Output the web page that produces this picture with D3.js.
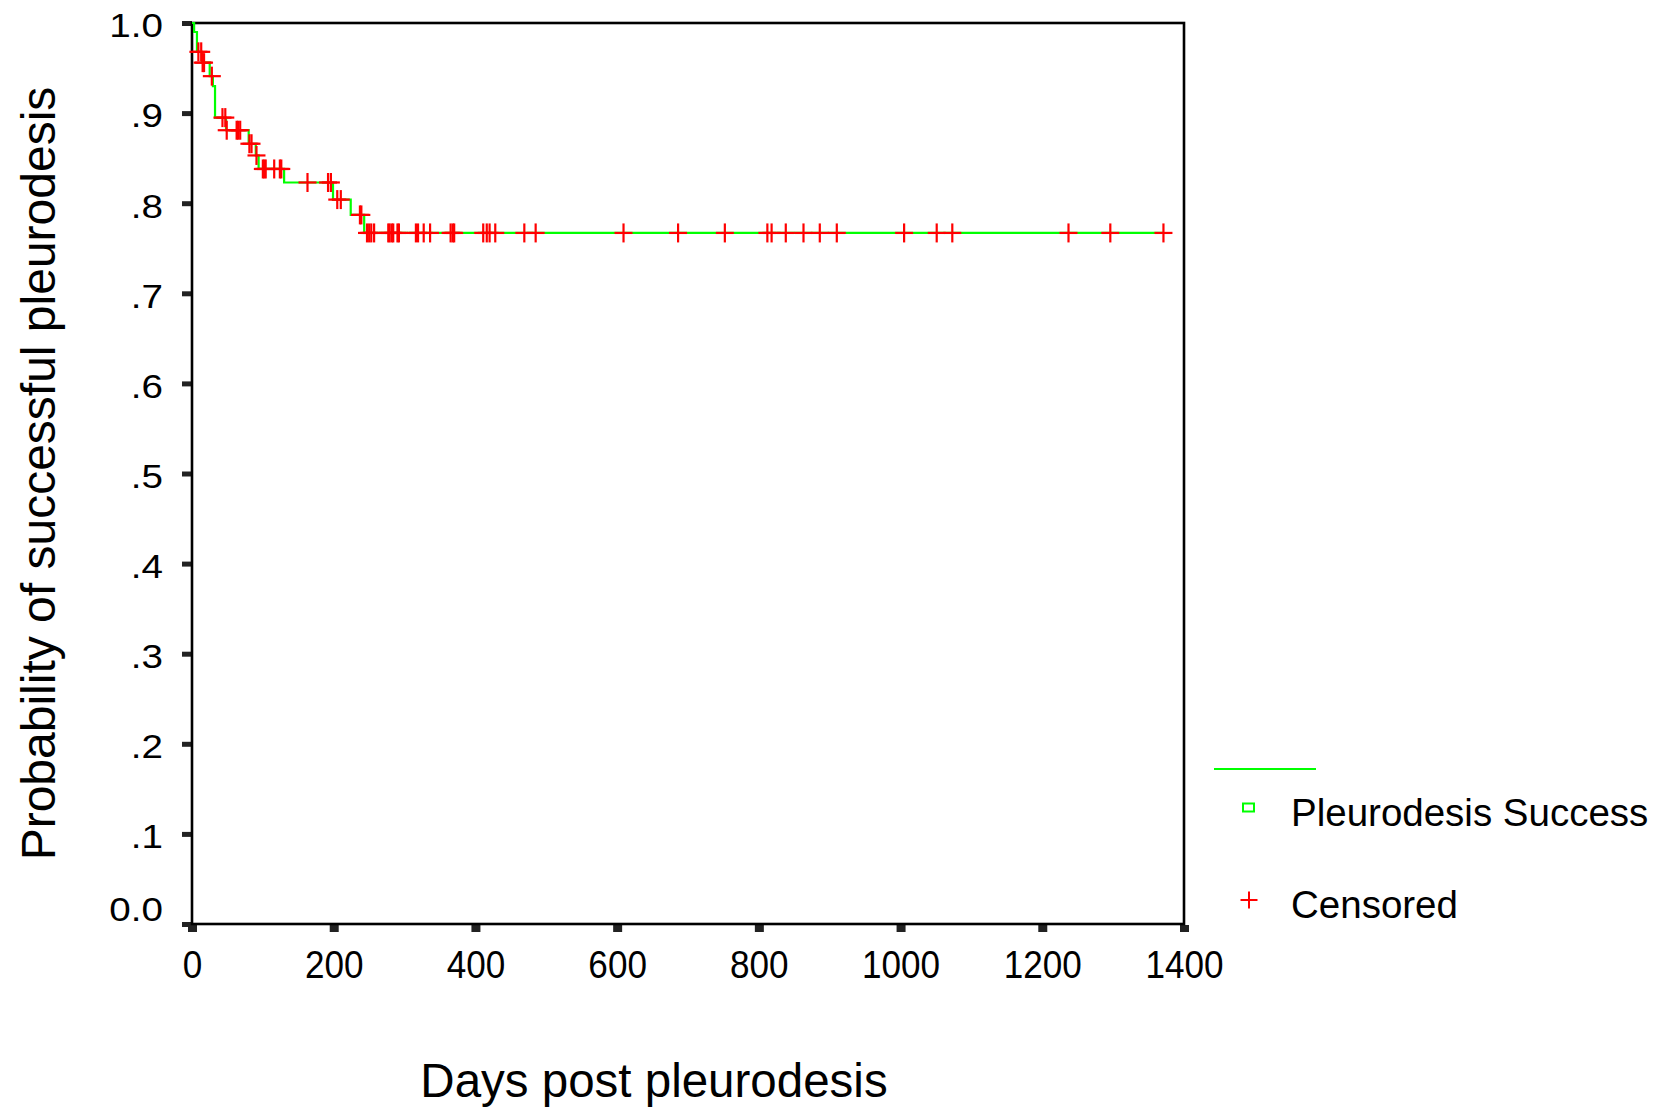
<!DOCTYPE html>
<html lang="en">
<head>
<meta charset="utf-8">
<title>Pleurodesis survival</title>
<script src="https://d3js.org/d3.v7.min.js"></script>
<style>
  body { margin: 0; background: white; }
  svg text { font-family: "Liberation Sans", Arial, sans-serif; fill: #000; }
  .ylab text { transform-box: fill-box; transform-origin: right center; transform: scaleX(1.17); }
  .xlab text { transform-box: fill-box; transform-origin: center center; transform: scaleX(0.9); }
</style>
</head>
<body>
<script>
// Kaplan-Meier steps (day of drop, survival after drop)
var stepDays = [0, 3, 7, 14, 25, 29.5, 32.5, 48, 80, 90, 94, 130, 199, 224, 243];
var stepSurv = [1.0, 0.990, 0.968, 0.956, 0.941, 0.930, 0.895, 0.881, 0.866, 0.853, 0.838, 0.823, 0.804, 0.787, 0.767];

// censored cases (day)
var censorDays = [9, 13, 15, 17, 28, 43, 47, 49, 63, 65, 68, 81, 84, 91,
  100, 102, 104, 116, 124, 126, 163, 192, 196, 205, 210, 237, 239,
  247, 250, 253, 257, 277, 279, 282, 284, 290, 292, 316, 319, 327, 336,
  365, 368, 370, 411, 416, 420, 428, 469, 485, 609, 686, 752, 812, 818,
  838, 863, 886, 910, 1005, 1051, 1073, 1237, 1296, 1371];

var xTicks = [0, 200, 400, 600, 800, 1000, 1200, 1400];
var yTicks = [0, 0.1, 0.2, 0.3, 0.4, 0.5, 0.6, 0.7, 0.8, 0.9, 1.0];
var yTickLabels = ["0.0", ".1", ".2", ".3", ".4", ".5", ".6", ".7", ".8", ".9", "1.0"];

var legendLabels = ["Pleurodesis Success", "Censored"];

var W = 1660, H = 1109;
var plotL = 192, plotR = 1184, plotT = 23, plotB = 924;

var svg = d3.select("body").append("svg")
  .attr("width", W)
  .attr("height", H);

var x = d3.scaleLinear().domain([0, 1400]).range([plotL, plotR]);
var y = d3.scaleLinear().domain([0, 1]).range([plotB, plotT]);

// survival at a given day (last step at or before it)
function survAt(day) {
  var i = d3.bisectRight(stepDays, day) - 1;
  return stepSurv[Math.max(i, 0)];
}

// axes
var xAxis = svg.append("g")
  .attr("class", "xlab")
  .attr("transform", "translate(0," + (plotB + 1) + ")")
  .call(d3.axisBottom(x).tickValues(xTicks).tickSize(7).tickSizeOuter(0).tickPadding(18).tickFormat(d3.format("d")));
xAxis.select(".domain").remove();
xAxis.selectAll(".tick line").attr("stroke", "#222").attr("stroke-width", 9);
xAxis.selectAll("text").style("font-size", "39px");

var yAxis = svg.append("g")
  .attr("class", "ylab")
  .attr("transform", "translate(" + plotL + ",0)")
  .call(d3.axisLeft(y).tickValues(yTicks).tickSize(10).tickSizeOuter(0).tickPadding(19)
    .tickFormat(function(d, i) { return yTickLabels[i]; }));
yAxis.select(".domain").remove();
yAxis.selectAll(".tick line").attr("stroke", "#222").attr("stroke-width", 5);
yAxis.selectAll("text")
  .style("font-size", "33px")
  .attr("dy", function(d) { return d === 0 ? "-0.1em" : "0.42em"; });

// frame
svg.append("rect")
  .attr("x", plotL).attr("y", plotT)
  .attr("width", plotR - plotL).attr("height", plotB - plotT)
  .attr("fill", "none")
  .attr("stroke", "#000")
  .attr("stroke-width", 2.6);

// survival curve
var lastDay = d3.max(censorDays);
var pts = stepDays.map(function(d, i) { return [d, stepSurv[i]]; });
pts.push([lastDay, stepSurv[stepSurv.length - 1]]);

var line = d3.line()
  .x(function(d) { return x(d[0]); })
  .y(function(d) { return y(d[1]); })
  .curve(d3.curveStepAfter);

svg.append("path")
  .attr("d", line(pts))
  .attr("fill", "none")
  .attr("stroke", "#00ff00")
  .attr("stroke-width", 2.2);

// censor marks
function plus(g, cx, cy, w, h) {
  g.append("line").attr("x1", cx - w / 2).attr("x2", cx + w / 2).attr("y1", cy).attr("y2", cy);
  g.append("line").attr("x1", cx).attr("x2", cx).attr("y1", cy - h / 2).attr("y2", cy + h / 2);
}
var marks = svg.append("g").attr("stroke", "#ff0000").attr("stroke-width", 2.2);
censorDays.forEach(function(d) {
  plus(marks, x(d), y(survAt(d)), 18, 19);
});

// axis titles
svg.append("text")
  .attr("x", 654).attr("y", 1097)
  .attr("text-anchor", "middle")
  .style("font-size", "47.5px")
  .text("Days post pleurodesis");

svg.append("text")
  .attr("transform", "translate(55," + ((plotT + plotB) / 2) + ") rotate(-90)")
  .attr("text-anchor", "middle")
  .style("font-size", "48px")
  .text("Probability of successful pleurodesis");

// legend
var lg = svg.append("g");
lg.append("line")
  .attr("x1", 1214).attr("x2", 1316).attr("y1", 769).attr("y2", 769)
  .attr("stroke", "#00ff00").attr("stroke-width", 2);
lg.append("rect")
  .attr("x", 1243).attr("y", 803.5).attr("width", 11).attr("height", 8)
  .attr("fill", "none").attr("stroke", "#00ff00").attr("stroke-width", 2);
lg.append("text")
  .attr("x", 1291).attr("y", 826)
  .style("font-size", "38.5px")
  .text(legendLabels[0]);
var lp = lg.append("g").attr("stroke", "#ff0000").attr("stroke-width", 2);
plus(lp, 1249, 900, 17, 17);
lg.append("text")
  .attr("x", 1291).attr("y", 918)
  .style("font-size", "38.5px")
  .text(legendLabels[1]);
</script>
</body>
</html>
